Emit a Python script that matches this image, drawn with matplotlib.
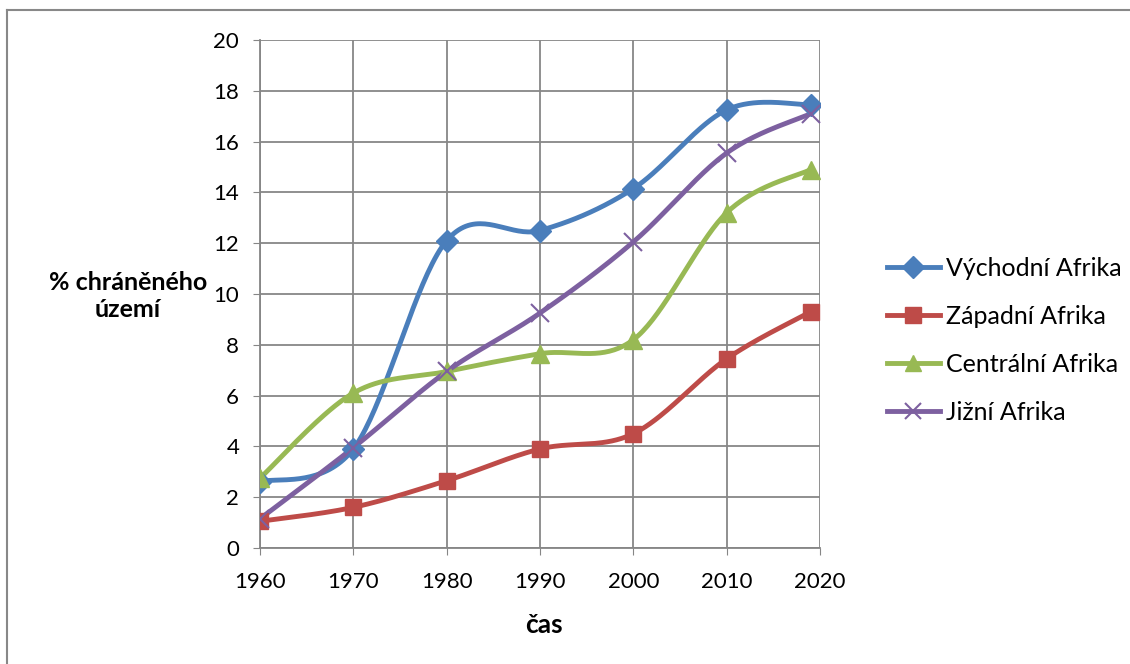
import numpy as np
import matplotlib
matplotlib.use("Agg")
import matplotlib.pyplot as plt
from matplotlib.lines import Line2D

plt.rcParams['font.family'] = ['Lato', 'DejaVu Sans']

years = [1960, 1970, 1980, 1990, 2000, 2010, 2019]
vychodni = [2.6, 3.9, 12.1, 12.5, 14.15, 17.25, 17.45]
zapadni = [1.05, 1.6, 2.65, 3.9, 4.5, 7.45, 9.3]
centralni = [2.75, 6.1, 6.95, 7.65, 8.2, 13.2, 14.9]
jizni = [1.15, 3.95, 6.95, 9.25, 12.05, 15.55, 17.1]

series_names = ["Východní Afrika", "Západní Afrika", "Centrální Afrika", "Jižní Afrika"]
xticks = [1960, 1970, 1980, 1990, 2000, 2010, 2020]
yticks = list(range(0, 21, 2))

colors = ["#4a7ebb", "#be4b48", "#98b954", "#7d60a0"]
markers = ["D", "s", "^", "x"]


def smooth(x, y, n=40):
    x = np.asarray(x, float)
    y = np.asarray(y, float)
    px = np.concatenate([[x[0]], x, [x[-1]]])
    py = np.concatenate([[y[0]], y, [y[-1]]])
    xs, ys = [], []
    t = np.linspace(0, 1, n)
    for i in range(1, len(px) - 2):
        p0, p1, p2, p3 = (np.array([px[j], py[j]]) for j in (i - 1, i, i + 1, i + 2))
        c1 = p1 + (p2 - p0) / 6
        c2 = p2 - (p3 - p1) / 6
        b = ((1 - t) ** 3)[:, None] * p1 + (3 * (1 - t) ** 2 * t)[:, None] * c1 \
            + (3 * (1 - t) * t ** 2)[:, None] * c2 + (t ** 3)[:, None] * p2
        xs.append(b[:, 0])
        ys.append(b[:, 1])
    return np.concatenate(xs), np.concatenate(ys)


fig = plt.figure(figsize=(11.3, 6.64), dpi=100)
ax = fig.add_axes([260 / 1130, 1 - 548 / 664, 560 / 1130, 508 / 664])

data = [vychodni, zapadni, centralni, jizni]
handles = []
for vals, c, m, name in zip(data, colors, markers, series_names):
    sx, sy = smooth(years, vals)
    ax.plot(sx, sy, color=c, lw=3.5, solid_capstyle='round', zorder=3)
    if m == "x":
        ax.plot(years, vals, linestyle='none', marker=m, color=c, ms=13, mew=1.5, zorder=4)
    else:
        ms = {"D": 11, "s": 12, "^": 13}[m]
        ax.plot(years, vals, linestyle='none', marker=m, color=c, ms=ms, mec=c, zorder=4)
    handles.append(Line2D([0], [0], color=c, lw=3.5, marker=m,
                          ms=11 if m != "x" else 12, mew=1.5 if m == "x" else 1, mec=c))

ax.set_xlim(1960, 2020)
ax.set_ylim(0, 20)
ax.set_xticks(xticks)
ax.set_yticks(yticks)
ax.tick_params(labelsize=16, length=5, color='#868686')
ax.tick_params(axis='x', pad=12)
ax.tick_params(axis='y', pad=10)
ax.grid(True, color='#878787', lw=1.3)
ax.set_axisbelow(True)
for s in ['top', 'right']:
    ax.spines[s].set_visible(False)
for s in ['left', 'bottom']:
    ax.spines[s].set_color('#868686')
    ax.spines[s].set_linewidth(1.3)

fig.text(128 / 1130, 1 - 296 / 664, "% chráněného\núzemí", ha='center', va='center',
         fontsize=18, fontweight='bold', linespacing=1.25)
fig.text(544 / 1130, 1 - 625 / 664, "čas", ha='center', va='center',
         fontsize=19, fontweight='bold')

leg = fig.legend(handles, series_names, loc='center left',
                 bbox_to_anchor=(887 / 1130, 1 - 340 / 664), frameon=False,
                 fontsize=18, handlelength=2.1, handletextpad=0.25, labelspacing=1.0,
                 borderpad=0, borderaxespad=0)

fig.add_artist(Line2D([7 / 1130, 7 / 1130], [0, 1 - 10 / 664], color='#888888', lw=1.5,
                      transform=fig.transFigure))
fig.add_artist(Line2D([7 / 1130, 1], [1 - 10 / 664, 1 - 10 / 664], color='#888888', lw=1.5,
                      transform=fig.transFigure))

fig.savefig("out.png", dpi=100)
